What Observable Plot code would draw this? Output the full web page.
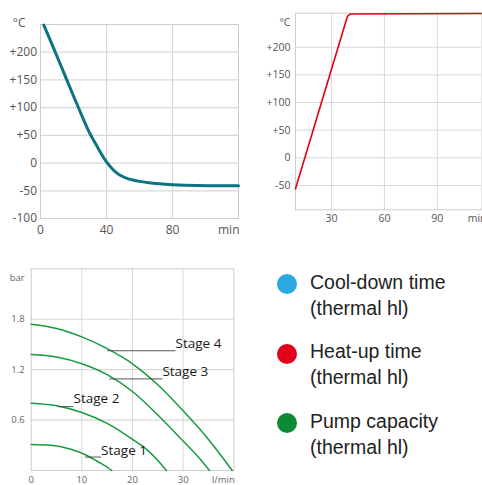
<!DOCTYPE html>
<html><head><meta charset="utf-8">
<script src="https://cdn.jsdelivr.net/npm/d3@7"></script>
<script src="https://cdn.jsdelivr.net/npm/@observablehq/plot@0.6"></script>
<style>
html,body{margin:0;padding:0;background:#fff;}
body{width:482px;height:485px;overflow:hidden;position:relative;font-family:"Open Sans",sans-serif;}
.panel{position:absolute;}
.lgItem{position:absolute;left:277px;font-family:"Liberation Sans",Arial,sans-serif;font-size:19.5px;line-height:26px;color:#222;}
.lgDot{position:absolute;left:0.3px;top:5.8px;width:20px;height:20px;border-radius:50%;}
.lgText{margin-left:33px;white-space:nowrap;}
</style></head><body>
<div id="c1" class="panel" style="left:0;top:0"></div>
<div id="c2" class="panel" style="left:245px;top:0"></div>
<div id="c3" class="panel" style="left:0;top:255px"></div>
<div id="lg"></div>
<script>
// ---- Cool-down curve (top left)
const coolMin  = [2, 8, 14, 20, 24, 27, 30, 33, 36, 40, 44, 48, 52, 56, 60, 66, 72, 80, 95, 120];
const coolTemp = [249, 207, 164, 121, 93, 72, 53, 37, 21, 2, -12, -21.5, -27, -30.5, -33, -35.5, -37.5, -39, -40.5, -41];
const coolYTicks = [-100, -50, 0, 50, 100, 150, 200];
const coolXTicks = [0, 40, 80];
const coolXUnit = "min";
const tempUnit = "°C";

// ---- Heat-up curve (top right)
const heatMin  = [9.5, 39, 40.5, 120];
const heatTemp = [-56, 256, 260, 261];
const heatYTicks = [-50, 0, 50, 100, 150, 200];
const heatXTicks = [30, 60, 90];
const heatXUnit = "min";

// ---- Pump capacity (bottom left)
const stageNames = ["Stage 1", "Stage 2", "Stage 3", "Stage 4"];
const stage1Flow = [0, 4, 8, 10.6, 13, 15, 15.9];
const stage1Bar  = [0.31, 0.30, 0.25, 0.19, 0.11, 0.04, 0];
const stage2Flow = [0, 5, 10, 15, 20, 23, 25, 26.7];
const stage2Bar  = [0.80, 0.77, 0.69, 0.56, 0.37, 0.24, 0.12, 0];
const stage3Flow = [0, 5, 10, 15, 20, 25, 30, 33, 35.2];
const stage3Bar  = [1.38, 1.35, 1.27, 1.14, 0.94, 0.66, 0.35, 0.16, 0];
const stage4Flow = [0, 5, 10, 15, 20, 25, 30, 35, 39.7];
const stage4Bar  = [1.74, 1.69, 1.59, 1.45, 1.27, 1.02, 0.71, 0.37, 0];
const stageLabelX = [13.8, 8.35, 25.9, 28.5];
const stageLabelY = [0.19, 0.80, 1.13, 1.457];
const stageLeadX  = [10.6, 5.2, 15.4, 15.0];
const stageLeadY  = [0.16, 0.76, 1.09, 1.425];
const pumpYTicks = [0.6, 1.2, 1.8];
const pumpXTicks = [0, 10, 20, 30];
const pumpYUnit = "bar";
const pumpXUnit = "l/min";

// ---- Legend
const legendLabels = ["Cool-down time", "Heat-up time", "Pump capacity"];
const legendSub = "(thermal hl)";
const legendColors = ["#2ba8df", "#e2001a", "#0c8a34"];

const fmtSigned = d => d > 0 ? `+${d}` : `${d}`;
const gridColor = "#d8d8d8";
const frameColor = "#cccccc";
const baseStyle = (fs, color) => ({fontFamily: "Open Sans", fontSize: fs + "px", color, background: "transparent", maxWidth: "none", overflow: "visible"});

const coolData = coolMin.map((t, i) => ({t, v: coolTemp[i]}));
const p1 = Plot.plot({
  width: 245, height: 240, marginLeft: 40, marginRight: 7, marginTop: 24, marginBottom: 22,
  x: {domain: [0, 120]}, y: {domain: [-100, 250]},
  style: baseStyle(12, "#555"),
  marks: [
    Plot.gridY(coolYTicks, {stroke: gridColor, strokeOpacity: 1, strokeWidth: 1.2}),
    Plot.gridX(coolXTicks.slice(1), {stroke: gridColor, strokeOpacity: 1, strokeWidth: 1.2}),
    Plot.frame({stroke: frameColor}),
    Plot.axisY(coolYTicks, {tickSize: 0, tickPadding: 3.5, tickFormat: fmtSigned, label: null}),
    Plot.axisX(coolXTicks, {tickSize: 0, tickPadding: 6.5, label: null}),
    Plot.text([coolXUnit], {frameAnchor: "bottom-right", textAnchor: "end", lineAnchor: "top", dy: 6.5, dx: 1, fill: "#555"}),
    Plot.text([tempUnit], {frameAnchor: "top-left", textAnchor: "end", dx: -15, dy: -6, fill: "#555"}),
    Plot.line(coolData, {x: "t", y: "v", stroke: "#0b7480", strokeWidth: 3, curve: "catmull-rom"})
  ]
});
document.getElementById("c1").appendChild(p1);

const heatData = heatMin.map((t, i) => ({t, v: heatTemp[i]}));
const p2 = Plot.plot({
  width: 245, height: 230, marginLeft: 50, marginRight: 8.5, marginTop: 12.7, marginBottom: 20.7,
  x: {domain: [9.5, 115.4]}, y: {domain: [-94, 261.5]},
  style: baseStyle(10.5, "#555"),
  marks: [
    Plot.gridY(heatYTicks, {stroke: gridColor, strokeOpacity: 1}),
    Plot.gridX(heatXTicks, {stroke: gridColor, strokeOpacity: 1}),
    Plot.frame({stroke: frameColor}),
    Plot.axisY(heatYTicks, {tickSize: 0, tickPadding: 5, tickFormat: fmtSigned, label: null}),
    Plot.axisX(heatXTicks, {tickSize: 0, tickPadding: 5.2, label: null}),
    Plot.text([heatXUnit], {frameAnchor: "bottom-right", textAnchor: "end", lineAnchor: "top", dy: 5.2, dx: 4.5, fill: "#555"}),
    Plot.text([tempUnit], {frameAnchor: "top-left", textAnchor: "end", dx: -5, dy: 5.6, fill: "#555"}),
    Plot.line(heatData, {x: "t", y: "v", stroke: "#e3000f", strokeWidth: 1.6, strokeLinejoin: "round"})
  ]
});
document.getElementById("c2").appendChild(p2);

const stageFlows = [stage1Flow, stage2Flow, stage3Flow, stage4Flow];
const stageBars = [stage1Bar, stage2Bar, stage3Bar, stage4Bar];
const pumpData = stageNames.flatMap((s, k) => stageFlows[k].map((q, i) => ({stage: s, q, p: stageBars[k][i]})));
const labelData = stageNames.map((s, k) => ({stage: s, x: stageLabelX[k], y: stageLabelY[k], x1: stageLeadX[k], ly: stageLeadY[k]}));
const p3 = Plot.plot({
  width: 245, height: 230, marginLeft: 30.7, marginRight: 11.7, marginTop: 13.3, marginBottom: 15,
  x: {domain: [0, 40]}, y: {domain: [0, 2.4]},
  style: baseStyle(9.5, "#666"),
  marks: [
    Plot.gridY(pumpYTicks, {stroke: gridColor, strokeOpacity: 1, strokeWidth: 1.2}),
    Plot.gridX(pumpXTicks.slice(1), {stroke: gridColor, strokeOpacity: 1}),
    Plot.frame({stroke: frameColor}),
    Plot.axisY(pumpYTicks, {tickSize: 0, tickPadding: 6.5, label: null}),
    Plot.axisX(pumpXTicks, {tickSize: 0, tickPadding: 6.2, label: null}),
    Plot.text([pumpXUnit], {frameAnchor: "bottom-right", textAnchor: "end", lineAnchor: "top", dy: 6.2, dx: 1, fill: "#666"}),
    Plot.text([pumpYUnit], {frameAnchor: "top-left", textAnchor: "end", dx: -6.5, dy: 5.7, fill: "#666"}),
    Plot.line(pumpData, {x: "q", y: "p", z: "stage", stroke: "#17993f", strokeWidth: 1.5, curve: "monotone-x"}),
    Plot.link(labelData, {x1: "x1", x2: "x", y1: "ly", y2: "ly", stroke: "#444", strokeWidth: 0.9}),
    Plot.text(labelData, {x: "x", y: "y", text: "stage", textAnchor: "start", lineAnchor: "bottom", fontSize: 13.5, fill: "#1a1a1a"})
  ]
});
document.getElementById("c3").appendChild(p3);

const lg = document.getElementById("lg");
legendLabels.forEach((lab, i) => {
  const item = document.createElement("div");
  item.className = "lgItem";
  item.style.top = (268.5 + i * 69.5) + "px";
  const dot = document.createElement("span");
  dot.className = "lgDot";
  dot.style.background = legendColors[i];
  const txt = document.createElement("div");
  txt.className = "lgText";
  txt.appendChild(document.createTextNode(lab));
  txt.appendChild(document.createElement("br"));
  txt.appendChild(document.createTextNode(legendSub));
  item.appendChild(dot);
  item.appendChild(txt);
  lg.appendChild(item);
});
</script>
</body></html>
